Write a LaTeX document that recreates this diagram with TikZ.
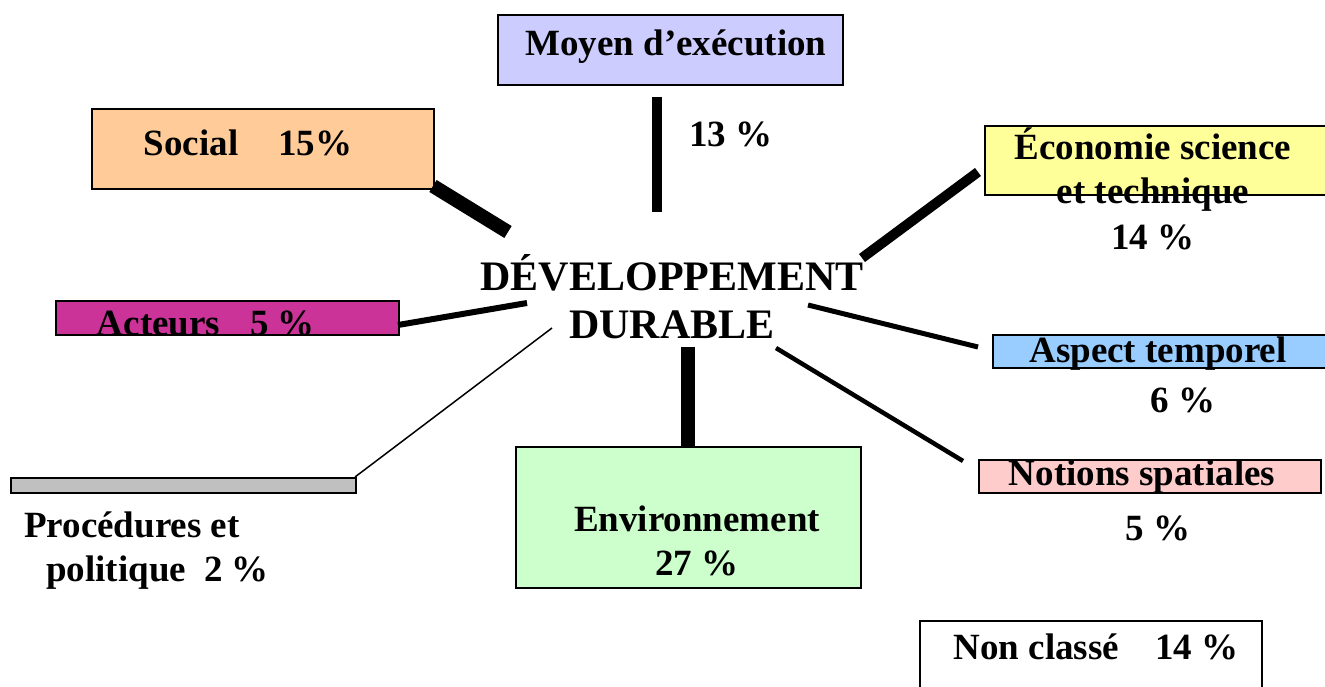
\documentclass[tikz,border=0pt]{standalone}
\usepackage{fontspec}
\setmainfont{Liberation Serif}
\begin{document}
\begin{tikzpicture}[x=1pt,y=-1pt,
  box/.style={draw=black,line width=1.6pt,inner sep=0pt,anchor=north west},
  lbl/.style={font=\fontsize{37}{44}\selectfont\bfseries,inner sep=0pt,align=center},
  big/.style={font=\fontsize{42}{48}\selectfont\bfseries,inner sep=0pt,align=center},
  link/.style={draw=black,line cap=butt}]
\useasboundingbox[fill=white] (0,0) rectangle (1325,687);
\definecolor{cMoyen}{RGB}{204,204,255}
\definecolor{cSocial}{RGB}{255,204,153}
\definecolor{cEco}{RGB}{255,255,153}
\definecolor{cAct}{RGB}{204,51,153}
\definecolor{cProc}{RGB}{192,192,192}
\definecolor{cEnv}{RGB}{204,255,204}
\definecolor{cAsp}{RGB}{153,204,255}
\definecolor{cNot}{RGB}{255,204,204}
% boxes
\node[box,fill=cMoyen,minimum width=345pt,minimum height=70pt] (moyen) at (497,14) {};
\node[box,fill=cSocial,minimum width=342pt,minimum height=80pt] (social) at (91,108) {};
\node[box,fill=cEco,minimum width=345pt,minimum height=69pt] (eco) at (984,125) {};
\node[box,fill=cAct,minimum width=343pt,minimum height=34pt] (act) at (55,300) {};
\node[box,fill=cProc,minimum width=345pt,minimum height=15pt] (proc) at (10,477) {};
\node[box,fill=cEnv,minimum width=345pt,minimum height=141pt] (env) at (515,446) {};
\node[box,fill=cAsp,minimum width=335pt,minimum height=33pt] (asp) at (992,334) {};
\node[box,fill=cNot,minimum width=342pt,minimum height=33pt] (not) at (978,459) {};
\draw[line width=1.6pt] (920,695) -- (920,621) -- (1262,621) -- (1262,695);
\coordinate (nonc) at (1091,654);
% texts
\node[lbl] (tmoyen) at (676,47) {Moyen d’exécution};
\node[lbl] (p13) at (731,134) {13 \%};
\node[lbl] (tsocial) at (248,143) {Social\hspace{40pt}15\%};
\node[lbl] (teco) at (1153,170) {Économie science\\et technique};
\node[lbl] (p14) at (1153,237) {14 \%};
\node[big] (centre) at (672,297) {DÉVELOPPEMENT\\DURABLE};
\begin{scope}
\clip (55,300) rectangle (398,334);
\node[lbl] (tact) at (206,323) {Acteurs\hspace{30pt}5 \%};
\end{scope}
\node[lbl,align=left,anchor=west] (tproc) at (24,551) {Procédures et\\\hspace{22pt}politique\hspace{18pt}2 \%};
\node[lbl] (tenv) at (697,541) {Environnement\\27 \%};
\node[lbl] (tasp) at (1158,354) {Aspect temporel};
\node[lbl] (p6) at (1183,400) {6 \%};
\node[lbl] (tnot) at (1142,477) {Notions spatiales};
\node[lbl] (p5) at (1158,528) {5 \%};
\node[lbl] (tnonc) at (1096,647) {Non classé\hspace{36pt}14 \%};
% connector end points
\coordinate (m1) at (657,97);   \coordinate (m2) at (657,212);
\coordinate (s1) at (433,186);  \coordinate (s2) at (508,232);
\coordinate (e1) at (978,172);  \coordinate (e2) at (862,258);
\coordinate (a1) at (398,325);  \coordinate (a2) at (527,303);
\coordinate (p1) at (355,477);  \coordinate (p2) at (552,328);
\coordinate (v1) at (688,347);  \coordinate (v2) at (688,446);
\coordinate (t1) at (808,305);  \coordinate (t2) at (978,347);
\coordinate (n1) at (776,348);  \coordinate (n2) at (963,461);
% connectors
\draw[link,line width=10pt] (m1) -- (m2);
\draw[link,line width=14pt] (s1) -- (s2);
\draw[link,line width=10pt] (e1) -- (e2);
\draw[link,line width=6pt] (a1) -- (a2);
\draw[link,line width=1.5pt] (p1) -- (p2);
\draw[link,line width=14pt] (v1) -- (v2);
\draw[link,line width=5pt] (t1) -- (t2);
\draw[link,line width=4.5pt] (n1) -- (n2);
\end{tikzpicture}
\end{document}
